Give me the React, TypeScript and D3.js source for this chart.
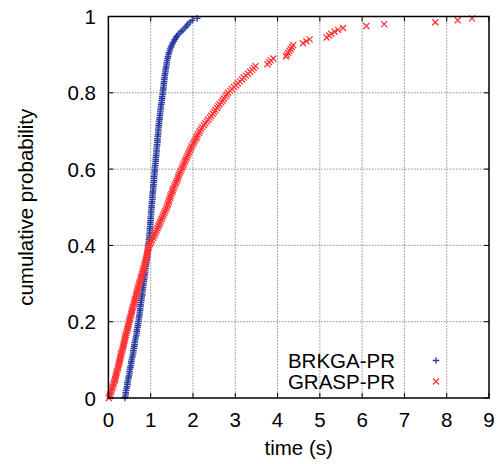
import React from "react";
import * as d3 from "d3";

const xTicks = [0, 1, 2, 3, 4, 5, 6, 7, 8, 9];
const yTicks = [0, 0.2, 0.4, 0.6, 0.8, 1];
const yTickLabels = ["0", "0.2", "0.4", "0.6", "0.8", "1"];
const seriesNames = ["BRKGA-PR", "GRASP-PR"];

// sorted run times (s) of 200 runs each
const brkgaTimes = [
  0.39, 0.40, 0.41, 0.41, 0.42, 0.43, 0.44, 0.45, 0.45, 0.46,
  0.47, 0.48, 0.49, 0.50, 0.50, 0.51, 0.52, 0.53, 0.54, 0.54,
  0.55, 0.56, 0.57, 0.58, 0.59, 0.59, 0.60, 0.61, 0.62, 0.62,
  0.63, 0.64, 0.65, 0.66, 0.67, 0.67, 0.68, 0.69, 0.70, 0.70,
  0.71, 0.72, 0.72, 0.73, 0.74, 0.74, 0.75, 0.75, 0.76, 0.76,
  0.77, 0.78, 0.78, 0.79, 0.80, 0.80, 0.81, 0.81, 0.82, 0.82,
  0.83, 0.84, 0.84, 0.85, 0.86, 0.86, 0.87, 0.87, 0.88, 0.88,
  0.89, 0.90, 0.90, 0.91, 0.92, 0.92, 0.93, 0.93, 0.94, 0.94,
  0.95, 0.95, 0.96, 0.96, 0.97, 0.97, 0.97, 0.98, 0.98, 0.98,
  0.99, 0.99, 0.99, 1.00, 1.00, 1.00, 1.01, 1.01, 1.01, 1.02,
  1.02, 1.02, 1.03, 1.03, 1.04, 1.04, 1.04, 1.05, 1.05, 1.06,
  1.06, 1.06, 1.07, 1.07, 1.08, 1.08, 1.08, 1.09, 1.09, 1.10,
  1.10, 1.10, 1.11, 1.11, 1.12, 1.12, 1.12, 1.13, 1.13, 1.14,
  1.14, 1.14, 1.15, 1.15, 1.16, 1.16, 1.16, 1.17, 1.17, 1.18,
  1.18, 1.18, 1.19, 1.19, 1.20, 1.20, 1.21, 1.21, 1.22, 1.22,
  1.23, 1.23, 1.24, 1.24, 1.25, 1.26, 1.26, 1.27, 1.27, 1.28,
  1.29, 1.29, 1.30, 1.30, 1.31, 1.31, 1.32, 1.32, 1.33, 1.33,
  1.34, 1.35, 1.35, 1.36, 1.37, 1.38, 1.38, 1.39, 1.40, 1.41,
  1.42, 1.43, 1.45, 1.46, 1.48, 1.50, 1.52, 1.55, 1.57, 1.60,
  1.63, 1.67, 1.72, 1.76, 1.81, 1.85, 1.88, 1.93, 1.98, 2.10,
];

const graspTimes = [
  0.01, 0.03, 0.04, 0.06, 0.07, 0.09, 0.10, 0.12, 0.13, 0.15,
  0.16, 0.17, 0.18, 0.19, 0.20, 0.22, 0.23, 0.24, 0.25, 0.26,
  0.27, 0.28, 0.29, 0.30, 0.31, 0.33, 0.34, 0.35, 0.36, 0.37,
  0.38, 0.39, 0.40, 0.41, 0.42, 0.44, 0.45, 0.46, 0.47, 0.48,
  0.49, 0.50, 0.51, 0.53, 0.54, 0.55, 0.56, 0.57, 0.58, 0.60,
  0.61, 0.62, 0.63, 0.65, 0.66, 0.67, 0.68, 0.69, 0.70, 0.72,
  0.73, 0.74, 0.76, 0.77, 0.78, 0.80, 0.81, 0.82, 0.83, 0.85,
  0.86, 0.87, 0.88, 0.89, 0.90, 0.91, 0.92, 0.93, 0.94, 0.95,
  0.97, 0.99, 1.01, 1.03, 1.06, 1.08, 1.10, 1.12, 1.14, 1.16,
  1.18, 1.20, 1.22, 1.24, 1.26, 1.28, 1.30, 1.32, 1.34, 1.36,
  1.38, 1.40, 1.41, 1.43, 1.44, 1.46, 1.47, 1.49, 1.51, 1.52,
  1.54, 1.56, 1.58, 1.60, 1.62, 1.64, 1.65, 1.67, 1.69, 1.71,
  1.73, 1.75, 1.77, 1.79, 1.81, 1.83, 1.85, 1.87, 1.89, 1.91,
  1.93, 1.95, 1.97, 2.00, 2.02, 2.04, 2.07, 2.09, 2.11, 2.14,
  2.16, 2.19, 2.22, 2.26, 2.29, 2.33, 2.36, 2.40, 2.43, 2.47,
  2.50, 2.53, 2.57, 2.60, 2.63, 2.67, 2.70, 2.73, 2.77, 2.80,
  2.83, 2.88, 2.92, 2.97, 3.02, 3.06, 3.11, 3.16, 3.20, 3.25,
  3.30, 3.35, 3.40, 3.44, 3.48, 3.76, 3.80, 3.84, 3.90, 4.20,
  4.22, 4.25, 4.28, 4.31, 4.34, 4.37, 4.60, 4.68, 4.76, 5.16,
  5.22, 5.27, 5.35, 5.43, 5.55, 6.10, 6.52, 7.73, 8.26, 8.60,
];

const W = 502;
const H = 464;
const left = 108.4;
const right = 489;
const top = 16.5;
const bottom = 398;
const FONT = "'Liberation Sans', Arial, sans-serif";
const BLUE = "#2a3a9e";
const RED = "#ff3434";
const FS = 20.5;

export default function App() {
  const x = d3.scaleLinear().domain([0, 9]).range([left, right]);
  const y = d3.scaleLinear().domain([0, 1]).range([bottom, top]);

  const ecdf = (arr: number[]) =>
    arr.map((t, i) => ({ t, p: i / arr.length }));
  const blue = ecdf(brkgaTimes);
  const red = ecdf(graspTimes);

  const plus = (cx: number, cy: number, s: number) =>
    `M${cx - s},${cy}H${cx + s}M${cx},${cy - s}V${cy + s}`;
  const cross = (cx: number, cy: number, s: number) =>
    `M${cx - s},${cy - s}L${cx + s},${cy + s}M${cx - s},${cy + s}L${cx + s},${cy - s}`;

  const tickLen = 5;

  return (
    <svg
      width={W}
      height={H}
      style={{ position: "absolute", left: 0, top: 0, background: "#fff" }}
      fontFamily={FONT}
    >
      <rect width={W} height={H} fill="#fff" />
      {/* grid */}
      <g stroke="#555" strokeWidth={1} strokeDasharray="1,2">
        {xTicks.slice(1, -1).map((t) => (
          <line key={"gx" + t} x1={x(t)} x2={x(t)} y1={top} y2={bottom} />
        ))}
        {yTicks.slice(1, -1).map((t) => (
          <line key={"gy" + t} x1={left} x2={right} y1={y(t)} y2={y(t)} />
        ))}
      </g>
      {/* ticks */}
      <g stroke="#000" strokeWidth={1}>
        {xTicks.map((t) => (
          <g key={"tx" + t}>
            <line x1={x(t)} x2={x(t)} y1={bottom} y2={bottom - tickLen} />
            <line x1={x(t)} x2={x(t)} y1={top} y2={top + tickLen} />
          </g>
        ))}
        {yTicks.map((t) => (
          <g key={"ty" + t}>
            <line x1={left} x2={left + tickLen} y1={y(t)} y2={y(t)} />
            <line x1={right} x2={right - tickLen} y1={y(t)} y2={y(t)} />
          </g>
        ))}
      </g>
      {/* data */}
      <path
        d={blue.map((d) => plus(x(d.t), y(d.p), 3.3)).join("")}
        stroke={BLUE}
        strokeWidth={1.3}
        fill="none"
      />
      <path
        d={red.map((d) => cross(x(d.t), y(d.p), 3)).join("")}
        stroke={RED}
        strokeWidth={1.3}
        fill="none"
      />
      {/* border */}
      <rect
        x={left}
        y={top}
        width={right - left}
        height={bottom - top}
        fill="none"
        stroke="#000"
        strokeWidth={1.5}
      />
      {/* tick labels */}
      <g fontSize={FS} fill="#000">
        {xTicks.map((t) => (
          <text key={"lx" + t} x={x(t)} y={427} textAnchor="middle">
            {t}
          </text>
        ))}
        {yTicks.map((t, i) => (
          <text key={"ly" + t} x={96} y={y(t) + 7.5} textAnchor="end">
            {yTickLabels[i]}
          </text>
        ))}
      </g>
      {/* axis titles */}
      <text x={(left + right) / 2} y={455} textAnchor="middle" fontSize={FS}>
        time (s)
      </text>
      <text
        transform={`translate(33,${(top + bottom) / 2}) rotate(-90)`}
        textAnchor="middle"
        fontSize={FS}
      >
        cumulative probability
      </text>
      {/* legend */}
      <g fontSize={FS}>
        <text x={395} y={368} textAnchor="end">
          {seriesNames[0]}
        </text>
        <text x={395} y={389} textAnchor="end">
          {seriesNames[1]}
        </text>
        <path d={plus(436, 360.5, 3.3)} stroke={BLUE} strokeWidth={1.3} />
        <path d={cross(436, 381.5, 3)} stroke={RED} strokeWidth={1.3} />
      </g>
    </svg>
  );
}
